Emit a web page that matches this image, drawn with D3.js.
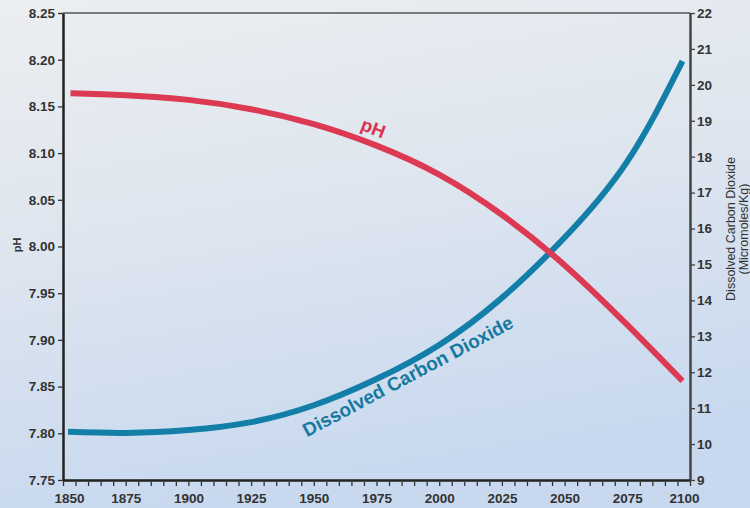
<!DOCTYPE html>
<html>
<head>
<script src="https://cdnjs.cloudflare.com/ajax/libs/d3/7.8.5/d3.min.js"></script>
<style>
  body { margin: 0; }
  text { font-family: "Liberation Sans", Arial, sans-serif; }
  .tick text { font-size: 13.5px; font-weight: bold; fill: #333; }
</style>
</head>
<body>
<svg id="main" width="750" height="508"></svg>
<script>
// years and values
var phYears = [1853, 1875, 1900, 1925, 1950, 1975, 2000, 2025, 2050, 2075, 2097];
var phValues = [8.164, 8.162, 8.157, 8.147, 8.131, 8.108, 8.077, 8.034, 7.980, 7.916, 7.856];

var co2Years = [1852, 1875, 1900, 1925, 1950, 1975, 2000, 2025, 2050, 2075, 2097];
var co2Values = [10.34, 10.31, 10.39, 10.61, 11.08, 11.81, 12.76, 14.07, 15.75, 17.87, 20.66];

var xTickLabels = [1850, 1875, 1900, 1925, 1950, 1975, 2000, 2025, 2050, 2075, 2100];
var phTicks = [7.75, 7.80, 7.85, 7.90, 7.95, 8.00, 8.05, 8.10, 8.15, 8.20, 8.25];
var co2Ticks = [9, 10, 11, 12, 13, 14, 15, 16, 17, 18, 19, 20, 21, 22];

var svg = d3.select('#main');
var L = 63, R = 690, T = 13, B = 480;

var defs = svg.append('defs');
var grad = defs.append('linearGradient').attr('id', 'bg')
  .attr('x1', '0%').attr('y1', '0%').attr('x2', '25%').attr('y2', '100%');
grad.append('stop').attr('offset', '0%').attr('stop-color', '#eceef1');
grad.append('stop').attr('offset', '45%').attr('stop-color', '#dfe6ef');
grad.append('stop').attr('offset', '100%').attr('stop-color', '#c8d9ef');
svg.append('rect').attr('width', 750).attr('height', 508).attr('fill', 'url(#bg)');

var x = d3.scaleLinear().domain([1850, 2100]).range([L, R]);
var yPh = d3.scaleLinear().domain([7.75, 8.25]).range([B, T]);
var yCo2 = d3.scaleLinear().domain([9, 22]).range([B, T]);

// top border
svg.append('line').attr('x1', L).attr('x2', R).attr('y1', T).attr('y2', T)
  .attr('stroke', '#555').attr('stroke-width', 1.5);

// x axis, small ticks every 5 years
var xAxis = svg.append('g').attr('transform', 'translate(0,' + B + ')')
  .call(d3.axisBottom(x).tickValues(d3.range(1850, 2101, 5)).tickSize(6).tickSizeOuter(0)
    .tickFormat(function(d) { return xTickLabels.indexOf(d) >= 0 ? d : ''; }));
xAxis.select('.domain').attr('stroke', '#222').attr('stroke-width', 2.5);
xAxis.selectAll('.tick line').attr('stroke', '#333').attr('stroke-width', 1.3);
xAxis.selectAll('.tick text').attr('dy', '1.05em')
  .attr('dx', function(d) { return d == 1850 ? 6 : (d == 2100 ? -6 : 0); });

var left = svg.append('g').attr('transform', 'translate(' + L + ',0)')
  .call(d3.axisLeft(yPh).tickValues(phTicks).tickSize(5).tickSizeOuter(0).tickFormat(d3.format('.2f')));
left.select('.domain').attr('stroke', '#222').attr('stroke-width', 2.5);
left.selectAll('.tick line').attr('stroke', '#333').attr('stroke-width', 1.3);
left.selectAll('.tick text').attr('x', -8);

var right = svg.append('g').attr('transform', 'translate(' + R + ',0)')
  .call(d3.axisRight(yCo2).tickValues(co2Ticks).tickSize(5).tickSizeOuter(0));
right.select('.domain').attr('stroke', '#444').attr('stroke-width', 2.5);
right.selectAll('.tick line').attr('stroke', '#444').attr('stroke-width', 1.3);
right.selectAll('.tick text').attr('x', 7);

// axis titles
svg.append('text').attr('transform', 'translate(21,' + 245 + ') rotate(-90)')
  .attr('text-anchor', 'middle').attr('font-size', 11).attr('font-weight', 'bold')
  .attr('fill', '#333').text('pH');
svg.append('text').attr('transform', 'translate(735,229) rotate(-90)')
  .attr('text-anchor', 'middle').attr('font-size', 12.5).attr('fill', '#333')
  .text('Dissolved Carbon Dioxide');
svg.append('text').attr('transform', 'translate(748,229) rotate(-90)')
  .attr('text-anchor', 'middle').attr('font-size', 12.5).attr('fill', '#333')
  .text('(Micromoles/Kg)');

// curves
var phLine = d3.line().curve(d3.curveNatural)
  .x(function(d, i) { return x(phYears[i]); })
  .y(function(d) { return yPh(d); });
var co2Line = d3.line().curve(d3.curveNatural)
  .x(function(d, i) { return x(co2Years[i]); })
  .y(function(d) { return yCo2(d); });

svg.append('path').datum(co2Values).attr('d', co2Line)
  .attr('fill', 'none').attr('stroke', '#137ea7').attr('stroke-width', 6);
svg.append('path').datum(phValues).attr('d', phLine)
  .attr('fill', 'none').attr('stroke', '#dc3a52').attr('stroke-width', 6);

// curve labels
svg.append('text').attr('transform', 'translate(371,134) rotate(21)')
  .attr('text-anchor', 'middle').attr('font-size', 18.5).attr('font-weight', 'bold')
  .attr('fill', '#d8354e').text('pH');
svg.append('text').attr('transform', 'translate(411,382) rotate(-28)')
  .attr('text-anchor', 'middle').attr('font-size', 19).attr('font-weight', 'bold')
  .attr('fill', '#16799f').text('Dissolved Carbon Dioxide');
</script>
</body>
</html>
